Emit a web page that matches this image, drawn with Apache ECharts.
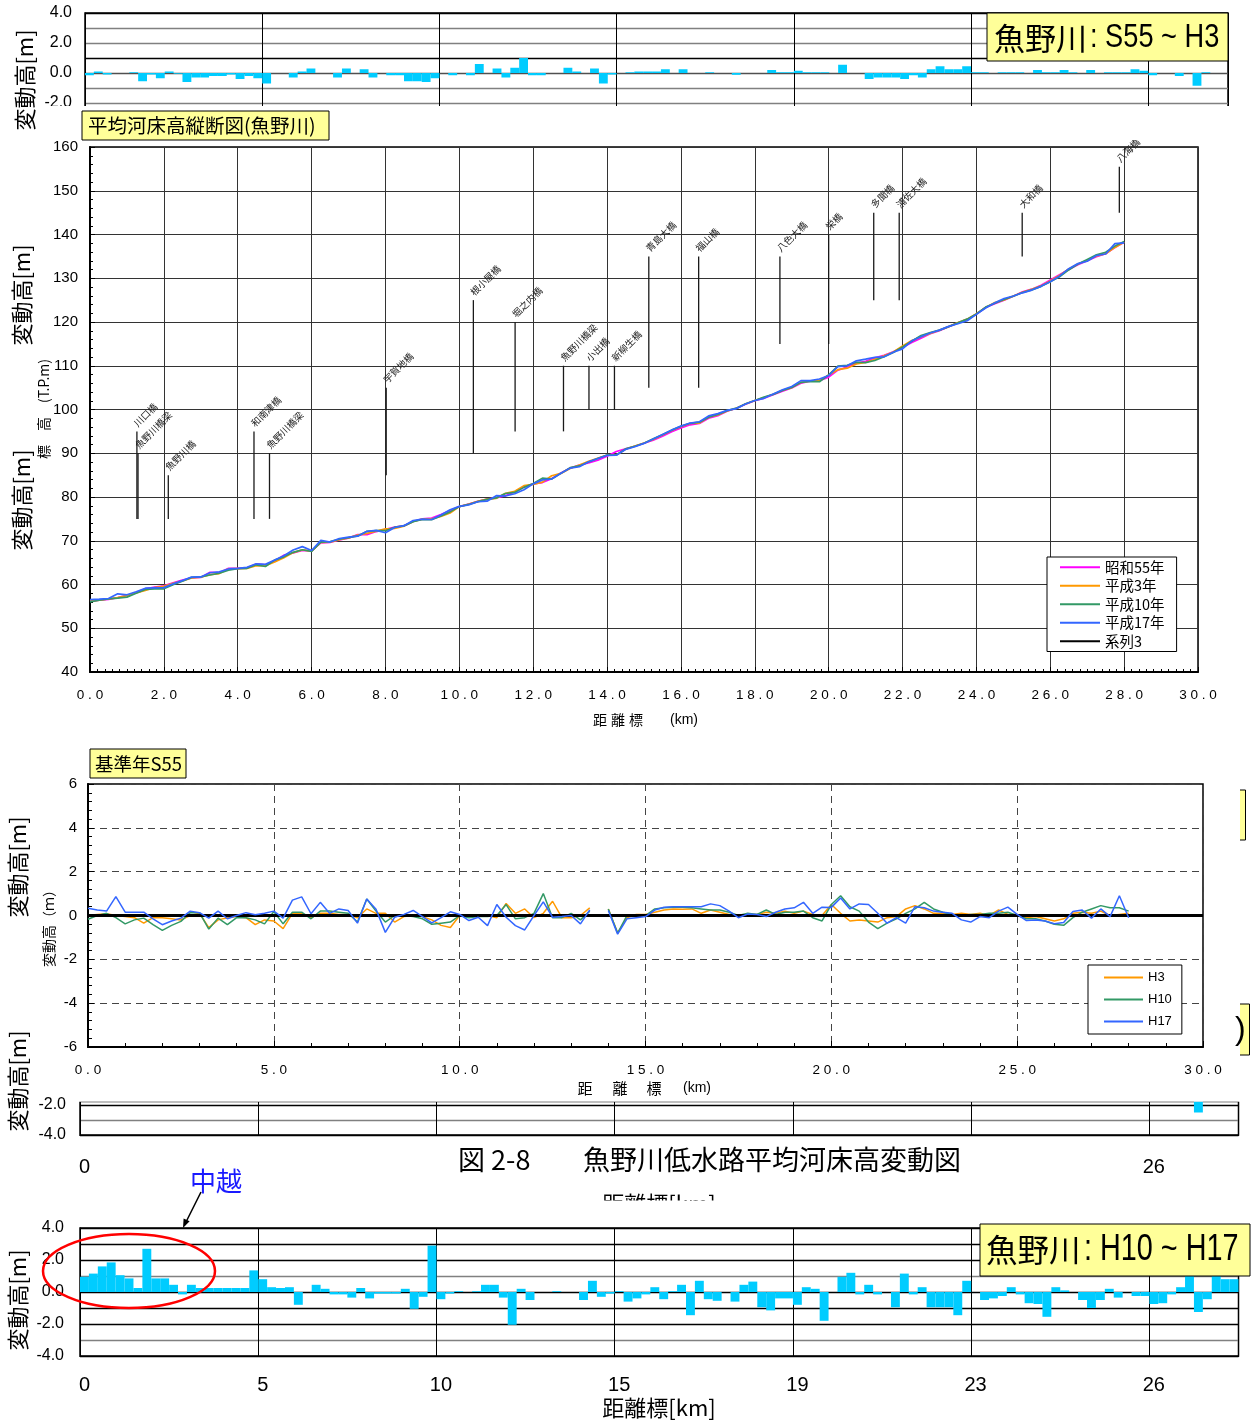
<!DOCTYPE html>
<html lang="ja"><head><meta charset="utf-8"><title>魚野川低水路平均河床高変動図</title>
<script src="https://cdn.jsdelivr.net/npm/echarts@6.0.0/dist/echarts.min.js"></script>
<style>html,body{margin:0;padding:0;background:#fff;}#chart{width:1258px;height:1423px;}</style>
</head><body><div id="chart"></div><script>
// ================= DATA =================
const KM_STEP = 0.25; // survey section spacing used for the profile / difference plots [km]

// 昭和55年 average low-water bed elevation [T.P.m] every 0.25 km, 0.0 – 28.0 km
const s55Bed = [
 56.2,56.4,56.6,57.0,57.5,58.2,59.0,59.4,59.7,60.4,
 61.0,61.5,61.6,62.8,62.7,63.7,63.7,63.8,64.7,64.5,
 65.4,66.7,67.2,67.8,67.7,69.5,69.6,70.2,70.6,71.4,
 71.4,72.1,72.6,73.1,73.4,74.4,75.0,75.2,76.0,76.9,
 77.8,78.4,79.0,79.5,79.8,80.3,81.2,82.3,83.0,83.3,
 84.2,85.5,86.6,87.3,87.8,88.4,89.3,90.4,91.0,91.6,
 92.3,93.0,93.9,94.9,95.8,96.5,96.8,98.0,98.6,99.6,
 100.3,101.2,102.0,102.6,103.4,104.2,104.9,106.0,106.5,106.6,
 107.4,109.0,109.7,110.6,111.0,111.8,112.4,113.2,114.2,115.3,
 116.3,117.3,118.0,118.9,119.8,120.6,121.8,123.3,124.2,125.0,
 125.9,126.9,127.5,128.4,129.6,130.8,132.0,133.1,134.0,134.9,
 135.6,137.0,138.2
];
// change from 昭和55年 (基準年S55) [m], same stations
const dH3 = [
 0.0,0.05,0.08,0.0,-0.05,-0.1,-0.35,-0.1,-0.1,-0.15,
 -0.2,0.0,0.1,-0.55,-0.2,-0.1,-0.05,-0.1,-0.42,-0.2,
 -0.25,-0.6,0.1,0.1,-0.1,0.1,0.1,0.05,0.05,-0.1,
 0.3,0.1,0.1,-0.3,-0.05,0.0,-0.05,-0.2,-0.45,-0.55,
 0.0,-0.05,0.0,0.0,-0.1,0.55,0.1,0.3,-0.1,0.1,
 0.65,-0.1,-0.1,0.0,0.35,null,0.3,-0.8,-0.1,0.05,
 0.05,0.15,0.25,0.3,0.28,0.3,0.1,0.25,0.15,0.05,
 0.0,0.05,0.05,0.15,0.1,0.2,0.1,0.2,0.05,0.0,
 0.5,0.1,-0.25,-0.2,-0.25,-0.3,-0.1,-0.05,0.3,0.45,
 0.3,0.1,0.1,0.05,0.1,0.05,0.1,0.0,0.25,0.05,
 0.05,-0.1,-0.05,-0.15,-0.25,-0.15,0.1,0.15,0.1,0.2,
 0.0,0.05,0.1
];
const dH10 = [
 -0.17,0.0,0.1,-0.1,-0.38,-0.2,-0.12,-0.42,-0.68,-0.45,
 -0.27,0.13,0.13,-0.62,-0.12,-0.42,-0.1,-0.1,-0.2,-0.38,
 0.18,-0.38,0.15,0.15,-0.15,0.2,0.2,0.15,0.1,-0.3,
 0.75,0.2,-0.3,0.0,0.0,-0.05,-0.15,-0.4,-0.35,-0.3,
 0.0,-0.1,-0.05,-0.05,0.0,0.5,-0.15,-0.1,0.1,1.0,
 -0.1,-0.1,0.1,-0.2,0.2,null,0.3,-0.8,0.0,0.0,
 0.0,0.3,0.35,0.38,0.38,0.35,0.3,0.25,0.25,0.15,
 0.0,0.1,0.05,0.25,0.05,0.15,0.15,0.2,-0.1,-0.25,
 0.5,0.9,0.4,0.2,-0.3,-0.6,-0.35,-0.15,0.1,0.3,
 0.6,0.3,0.15,0.05,0.0,0.05,0.05,0.1,0.1,0.15,
 0.0,-0.15,-0.15,-0.25,-0.4,-0.45,-0.1,0.15,0.3,0.45,
 0.35,0.35,0.2
];
const dH17 = [
 0.33,0.25,0.2,0.86,0.15,0.15,0.15,-0.15,-0.42,-0.25,
 -0.12,0.2,0.13,-0.12,0.2,-0.15,0.0,0.13,0.03,0.1,
 0.2,-0.12,0.7,0.85,0.08,0.6,0.1,0.3,0.23,-0.35,
 0.75,0.28,-0.77,-0.08,0.05,0.23,-0.05,-0.34,-0.1,0.17,
 0.05,-0.23,-0.08,-0.46,0.5,-0.08,-0.46,-0.66,0.0,0.62,
 -0.08,-0.05,0.0,-0.38,0.26,null,0.23,-0.85,-0.15,-0.1,
 -0.05,0.25,0.38,0.4,0.4,0.4,0.4,0.53,0.45,0.2,
 -0.1,0.07,0.05,-0.05,0.15,0.3,0.35,0.6,0.1,0.38,
 0.37,0.8,0.3,0.53,0.5,0.1,-0.35,-0.1,-0.35,0.4,
 0.35,0.2,0.15,0.1,-0.2,-0.3,-0.05,-0.1,0.2,0.38,
 0.05,-0.23,-0.2,-0.25,-0.38,-0.32,0.18,0.25,-0.12,0.3,
 -0.05,0.9,-0.1
];

// bridges (系列3)
const bridgeNames  = ['川口橋','魚野川橋梁','魚野川橋','和南津橋','魚野川橋梁','宇賀地橋','根小屋橋','堀之内橋','魚野川橋梁','小出橋','新柳生橋','青島大橋','福山橋','八色大橋','栄橋','多聞橋','浦佐大橋','大和橋','八海橋'];
const bridgeKm     = [1.27,1.30,2.12,4.44,4.86,8.02,10.38,11.51,12.82,13.51,14.20,15.13,16.48,18.68,20.00,21.22,21.91,25.24,27.87];
const bridgeTop    = [95,90,85,95,90,105,125,120,110,110,110,135,135,135,140,145,145,145,155.5];
const bridgeBottom = [75,75,75,75,75,85,90,95,95,100,100,105,105,115,115,125,125,135,145];

// strip bar charts (one bar per survey section) [m]
const s55toH3Change = [
 -0.15,0.1,-0.1,0,0,0.05,-0.55,-0.1,-0.35,0.1,-0.05,-0.6,-0.3,-0.3,-0.2,-0.2,-0.1,-0.4,-0.2,-0.35,
 -0.7,0,0,-0.3,0.1,0.3,0,0,-0.3,0.3,0,0.25,-0.3,0,-0.15,-0.15,-0.55,-0.55,-0.6,-0.35,
 0,-0.15,0,-0.15,0.6,0,0.3,-0.3,0.35,1.0,-0.15,-0.15,0,0,0.35,0.1,0,0.3,-0.7,-0.1,
 0,0.05,0.1,0.1,0.1,0.25,0,0.25,0,0,0.05,0,0,-0.12,0,0,0,0.2,0.05,0.05,
 0.15,0.05,0.05,0.05,0,0.55,0,0,-0.4,-0.3,-0.3,-0.3,-0.4,-0.15,-0.3,0.25,0.45,0.25,0.25,0.45,
 0.05,0.05,0,0.05,0.05,0.05,0,0.2,0.05,0.05,0.2,0.05,0,0.2,0,0.05,0.05,0.05,0.25,0.15,
 -0.15,0,0,-0.2,0,-0.85,0.05,0,0
];
const h10toH17Change = [
 0.95,1.15,1.6,1.85,1.05,0.85,0.25,2.7,0.85,0.85,0.45,-0.15,0.45,0.25,0.25,0.25,0.25,0.25,0.25,1.35,
 0.8,0.3,0.25,0.3,-0.8,0,0.45,0.2,-0.15,-0.15,-0.35,0.25,-0.4,-0.1,-0.1,-0.1,0.2,-1.05,-0.3,2.9,
 -0.45,-0.1,0.05,0,0.05,0.45,0.45,-0.35,-2.05,0.2,-0.5,0,0,0.05,0,0,-0.5,0.7,-0.3,-0.1,
 0.05,-0.6,-0.4,-0.15,0.3,-0.45,0.05,0.45,-1.45,0.7,-0.45,-0.55,0,-0.6,0.45,0.65,-0.95,-1.15,-0.4,-0.4,
 -0.8,0.3,0.2,-1.8,0,0.95,1.2,-0.15,0.45,-0.15,0,-0.95,1.15,-0.15,0.3,-0.95,-0.95,-0.95,-1.45,0.7,
 0,-0.5,-0.4,-0.25,0.3,-0.15,-0.7,-0.75,-1.55,0.3,0.1,0,-0.5,-1.0,-0.5,0.2,-0.35,0,-0.25,-0.25,
 -0.75,-0.7,-0.15,0.3,1.05,-1.25,-0.45,1.05,0.8,0.8
];
// partially hidden strip: only one bar is visible
const hiddenStripCount = 130;
const hiddenStripVisibleIndex = [125];
const hiddenStripVisibleValue = [-2.5];

const stripTickLabels = ['0','5','10','15','19','23','26'];
const hiddenStripTickLabels = {0:'0', 120:'26'};
const profileNames = ['昭和55年','平成3年','平成10年','平成17年'];
const diffNames = ['H3','H10','H17'];

// ================= BUILD =================
const JP = "'Noto Sans CJK JP', 'Noto Sans', sans-serif";
const NUM = "'Liberation Sans', Arial, sans-serif";
const stationsKm = s55Bed.map((_, i) => i * KM_STEP);
function addDiff(base, d) { return base.map((v, i) => d[i] == null ? null : Math.round((v + d[i]) * 100) / 100); }
const profiles = [s55Bed, addDiff(s55Bed, dH3), addDiff(s55Bed, dH10), addDiff(s55Bed, dH17)];
const profileColors = ['#FF00FF', '#FF9900', '#339966', '#3366FF'];
const diffs = [dH3, dH10, dH17];
const diffColors = ['#FF9900', '#339966', '#3366FF'];
const pairs = (arr) => arr.map((v, i) => [stationsKm[i], v]);
const catIdx = (n) => Array.from({length: n}, (_, i) => String(i));
const hiddenStripData = Array.from({length: hiddenStripCount}, () => null);
hiddenStripVisibleIndex.forEach((k, j) => { hiddenStripData[k] = hiddenStripVisibleValue[j]; });
const spaced = (s) => s.split('').join(' ');

const chart = echarts.init(document.getElementById('chart'), null, {renderer: 'canvas'});

const grids = [
  {left: 85, top: 13, width: 1143, height: 120},
  {left: 90, top: 147, width: 1108, height: 525},
  {left: 88, top: 784, width: 1115, height: 263},
  {left: 80, top: 1101.25, width: 1158.5, height: 33.75},
  {left: 80, top: 1228, width: 1158.5, height: 128}
].map(g => Object.assign({show: true, borderColor: '#000', borderWidth: 1.5, containLabel: false}, g));

const stripSplitColorsTop = ['#808080','#808080','#808080','#808080','#505050','#000','#808080','#808080','#000'];
const stripSplitColorsBottom = ['#000','#808080','#000','#000','#000','#808080','#000','#000','#000'];

const xAxis = [
  {type: 'category', gridIndex: 0, data: catIdx(s55toH3Change.length), boundaryGap: true,
   axisLine: {onZero: false, lineStyle: {color: '#000'}}, axisTick: {show: false}, axisLabel: {show: false},
   splitLine: {show: true, interval: 19, lineStyle: {color: '#000', width: 1}}},
  {type: 'value', gridIndex: 1, min: 0, max: 30, interval: 2,
   axisLine: {onZero: false, lineStyle: {color: '#000', width: 2}},
   axisTick: {inside: true, length: 5, lineStyle: {color: '#000'}},
   minorTick: {show: true, splitNumber: 10, length: 3, lineStyle: {color: '#000'}},
   axisLabel: {formatter: v => spaced(v.toFixed(1)), fontSize: 13.5, fontFamily: NUM, color: '#000', margin: 16},
   splitLine: {show: true, lineStyle: {color: '#333', width: 1}}},
  {type: 'value', gridIndex: 2, min: 0, max: 30, interval: 5,
   axisLine: {onZero: false, lineStyle: {color: '#000', width: 2}},
   axisTick: {inside: true, length: 6, lineStyle: {color: '#000'}},
   minorTick: {show: true, splitNumber: 5, length: 4, lineStyle: {color: '#000'}},
   axisLabel: {formatter: v => spaced(v.toFixed(1)), fontSize: 13.5, fontFamily: NUM, color: '#000', margin: 16},
   splitLine: {show: true, lineStyle: {color: '#444', width: 1, type: [7, 5]}}},
  {type: 'category', gridIndex: 3, data: catIdx(hiddenStripCount), boundaryGap: true,
   axisLine: {onZero: false, lineStyle: {color: '#000'}}, axisTick: {show: false},
   axisLabel: {interval: 19, formatter: (v, i) => hiddenStripTickLabels[i] || '', fontSize: 20, fontFamily: NUM, color: '#000', margin: 22},
   splitLine: {show: true, interval: 19, lineStyle: {color: '#000', width: 1}}},
  {type: 'category', gridIndex: 4, data: catIdx(h10toH17Change.length), boundaryGap: true,
   axisLine: {onZero: false, lineStyle: {color: '#000'}}, axisTick: {show: false},
   axisLabel: {interval: 19, formatter: (v, i) => stripTickLabels[i / 20] || '', fontSize: 20, fontFamily: NUM, color: '#000', margin: 19},
   splitLine: {show: true, interval: 19, lineStyle: {color: '#000', width: 1}}}
];

const yAxis = [
  {type: 'value', gridIndex: 0, min: -4, max: 4, interval: 1,
   axisLine: {show: true, lineStyle: {color: '#000'}}, axisTick: {show: false},
   axisLabel: {formatter: v => (Math.abs(v % 2) < 1e-9 ? v.toFixed(1) : ''), fontSize: 16, fontFamily: NUM, color: '#000', margin: 13},
   splitLine: {show: true, lineStyle: {color: stripSplitColorsTop, width: 1.3}}},
  {type: 'value', gridIndex: 1, min: 40, max: 160, interval: 10,
   axisLine: {show: true, lineStyle: {color: '#000', width: 2}},
   axisTick: {inside: true, length: 5, lineStyle: {color: '#000'}},
   minorTick: {show: true, splitNumber: 5, length: 3, lineStyle: {color: '#000'}},
   axisLabel: {fontSize: 15, fontFamily: NUM, color: '#000', margin: 12},
   splitLine: {show: true, lineStyle: {color: '#333', width: 1}}},
  {type: 'value', gridIndex: 2, min: -6, max: 6, interval: 2,
   axisLine: {show: true, lineStyle: {color: '#000', width: 2}},
   axisTick: {inside: true, length: 6, lineStyle: {color: '#000'}},
   minorTick: {show: true, splitNumber: 5, length: 4, lineStyle: {color: '#000'}},
   axisLabel: {fontSize: 15, fontFamily: NUM, color: '#000', margin: 11},
   splitLine: {show: true, lineStyle: {color: '#444', width: 1, type: [7, 5]}}},
  {type: 'value', gridIndex: 3, min: -4, max: -1.75, interval: 1,
   axisLine: {show: true, lineStyle: {color: '#000'}}, axisTick: {show: false},
   axisLabel: {showMaxLabel: false, formatter: v => (v === -2 || v === -4 ? v.toFixed(1) : ''), fontSize: 16, fontFamily: NUM, color: '#000', margin: 14},
   splitLine: {show: true, lineStyle: {color: ['#000', '#808080', '#000', '#000'], width: 1.3}}},
  {type: 'value', gridIndex: 4, min: -4, max: 4, interval: 1,
   axisLine: {show: true, lineStyle: {color: '#000'}}, axisTick: {show: false},
   axisLabel: {formatter: v => (Math.abs(v % 2) < 1e-9 ? v.toFixed(1) : ''), fontSize: 16, fontFamily: NUM, color: '#000', margin: 16},
   splitLine: {show: true, lineStyle: {color: stripSplitColorsBottom, width: 1.3}}}
];

const series = [];
series.push({type: 'bar', name: 'S55～H3', xAxisIndex: 0, yAxisIndex: 0, data: s55toH3Change, barCategoryGap: '0%', itemStyle: {color: '#00CCFF'}, silent: true});
profiles.forEach((p, k) => series.push({
  type: 'line', name: profileNames[k], xAxisIndex: 1, yAxisIndex: 1, data: pairs(p), symbol: 'none', showSymbol: false,
  connectNulls: true, lineStyle: {color: profileColors[k], width: 1.7}, itemStyle: {color: profileColors[k]}, z: 3 + k
}));
series.push({
  type: 'custom', name: '系列3', xAxisIndex: 1, yAxisIndex: 1, itemStyle: {color: '#000'}, z: 8,
  data: bridgeKm.map((k, i) => [k, bridgeTop[i], bridgeBottom[i]]),
  encode: {x: 0, y: [1, 2]},
  renderItem: function (params, api) {
    const x = api.value(0), t = api.value(1), b = api.value(2);
    const p1 = api.coord([x, t]), p2 = api.coord([x, b]);
    return {type: 'group', children: [
      {type: 'line', shape: {x1: p1[0], y1: p1[1], x2: p2[0], y2: p2[1]}, style: {stroke: '#1a1a1a', lineWidth: 1.3}},
      {type: 'text', x: p1[0] + 2, y: p1[1] - 3, rotation: Math.PI / 4,
       style: {text: bridgeNames[params.dataIndex], fill: '#222', font: "9.5px 'Noto Sans CJK JP', sans-serif",
               align: 'left', verticalAlign: 'bottom', textAlign: 'left', textVerticalAlign: 'bottom'}}
    ]};
  }
});
diffs.forEach((d, k) => {
  const s = {type: 'line', name: diffNames[k], xAxisIndex: 2, yAxisIndex: 2, data: pairs(d), symbol: 'none', showSymbol: false,
    connectNulls: false, lineStyle: {color: diffColors[k], width: 1.5}, itemStyle: {color: diffColors[k]}, z: 3 + k};
  if (k === diffs.length - 1) {
    s.markLine = {silent: true, symbol: ['none', 'none'], label: {show: false}, animation: false,
      lineStyle: {color: '#000', width: 3, type: 'solid'}, data: [{yAxis: 0}]};
  }
  series.push(s);
});
series.push({type: 'bar', name: 'H3～H10', xAxisIndex: 3, yAxisIndex: 3, data: hiddenStripData, barCategoryGap: '0%', clip: true, itemStyle: {color: '#00CCFF'}, silent: true});
series.push({type: 'bar', name: 'H10～H17', xAxisIndex: 4, yAxisIndex: 4, data: h10toH17Change, barCategoryGap: '0%', itemStyle: {color: '#00CCFF'}, silent: true});

const legend = [
  {data: profileNames.concat(['系列3']).map(n => ({name: n, icon: 'rect'})), orient: 'vertical', left: 1047, top: 557,
   itemWidth: 40, itemHeight: 2, itemGap: 4, padding: [3, 12, 3, 13], backgroundColor: '#fff', borderColor: '#000', borderWidth: 1,
   selectedMode: false, textStyle: {fontSize: 14.5, fontFamily: JP, color: '#000', lineHeight: 14.5}},
  {data: diffNames.map(n => ({name: n, icon: 'rect'})), orient: 'vertical', left: 1088, top: 965,
   itemWidth: 39, itemHeight: 2, itemGap: 9, padding: [6, 10, 6, 16], backgroundColor: '#fff', borderColor: '#000', borderWidth: 1,
   selectedMode: false, textStyle: {fontSize: 13, fontFamily: NUM, color: '#000', lineHeight: 13}}
];

// ---------- annotations ----------
const G = [];
function T(x, y, text, o) {
  o = o || {};
  const el = {type: 'text', x: x, y: y, z: o.z || 120, silent: true,
    style: {text: text, fill: o.fill || '#000', font: (o.size || 14) + 'px ' + (o.family || JP),
      align: o.align || 'left', textAlign: o.align || 'left', verticalAlign: o.va || 'middle', textVerticalAlign: o.va || 'middle'}};
  if (o.rot) el.rotation = o.rot;
  if (o.scaleX) el.scaleX = o.scaleX;
  G.push(el);
}
function R(x, y, w, h, fill, stroke, z) {
  G.push({type: 'rect', z: z || 115, silent: true, shape: {x: x, y: y, width: w, height: h},
    style: {fill: fill, stroke: stroke || null, lineWidth: stroke ? 1 : 0}});
}
// white covers (parts of the strips hidden behind the other figures)
R(45, 106, 1213, 34, '#fff', null, 100);
R(70, 1099.5, 1180, 2.3, '#fff', null, 100);
R(560, 1200.5, 200, 25, '#fff', null, 101);

// label boxes
R(82, 111, 247, 29, '#FFFF99', '#000');
T(88, 126, '平均河床高縦断図(魚野川)', {size: 19.5});
R(987, 13, 241, 48, '#FFFF99', '#000');
T(994, 38, '魚野川', {size: 31});
T(1090, 38, ': S55 ~ H3', {size: 34, family: NUM, scaleX: 0.8});
R(90, 749, 96, 29, '#FFFF99', '#000');
T(95, 764, '基準年S55', {size: 18.5});
R(980, 1224, 270, 52, '#FFFF99', '#000');
T(986, 1250, '魚野川', {size: 31.5});
T(1084, 1250, ': H10 ~ H17', {size: 36, family: NUM, scaleX: 0.8});
// box fragments at the right edge
G.push({type: 'rect', z: 115, silent: true, shape: {x: 1240, y: 790, width: 5.5, height: 50}, style: {fill: '#FFFF99'}});
G.push({type: 'polyline', z: 116, silent: true, shape: {points: [[1240, 790], [1245.5, 790], [1245.5, 840], [1240, 840]]}, style: {stroke: '#000', lineWidth: 1, fill: null}});
G.push({type: 'rect', z: 115, silent: true, shape: {x: 1240, y: 1004, width: 9.5, height: 51}, style: {fill: '#FFFF99'}});
G.push({type: 'polyline', z: 116, silent: true, shape: {points: [[1240, 1004], [1249.5, 1004], [1249.5, 1055], [1240, 1055]]}, style: {stroke: '#000', lineWidth: 1, fill: null}});
T(1235, 1030, ')', {size: 32, family: NUM});

// axis titles
const R90 = Math.PI / 2;
T(25, 80, '変動高[m]', {size: 22, align: 'center', rot: R90});
T(22, 295, '変動高[m]', {size: 22, align: 'center', rot: R90});
T(22, 500, '変動高[m]', {size: 22, align: 'center', rot: R90});
T(44, 409, '標　高　(T.P.m)', {size: 14, align: 'center', rot: R90});
T(18, 867, '変動高[m]', {size: 22, align: 'center', rot: R90});
T(49, 925, '変動高（ｍ）', {size: 14, align: 'center', rot: R90});
T(18, 1081, '変動高[m]', {size: 22, align: 'center', rot: R90});
T(18, 1300, '変動高[m]', {size: 22, align: 'center', rot: R90});
// x titles
T(600, 720, '距', {size: 14, align: 'center'}); T(618, 720, '離', {size: 14, align: 'center'}); T(636, 720, '標', {size: 14, align: 'center'});
T(684, 720, '(km)', {size: 14, family: NUM, align: 'center'});
T(585, 1088, '距', {size: 15, align: 'center'}); T(620, 1088, '離', {size: 15, align: 'center'}); T(654, 1088, '標', {size: 15, align: 'center'});
T(697, 1088, '(km)', {size: 14, family: NUM, align: 'center'});
T(659, 1204, '距離標[km]', {size: 22, align: 'center', z: 99});
T(659, 1408, '距離標[km]', {size: 22, align: 'center'});
// caption
T(458, 1160, '図 2-8', {size: 27});
T(583, 1160, '魚野川低水路平均河床高変動図', {size: 27});
// 中越 annotation
T(216, 1181, '中越', {size: 26, align: 'center', fill: '#1a1aff'});
G.push({type: 'line', z: 121, silent: true, shape: {x1: 201, y1: 1192, x2: 185.5, y2: 1223}, style: {stroke: '#000', lineWidth: 1.5}});
G.push({type: 'polygon', z: 121, silent: true, shape: {points: [[183, 1228], [189.6, 1221.2], [183.6, 1218.6]]}, style: {fill: '#000'}});
G.push({type: 'ellipse', z: 121, silent: true, shape: {cx: 129, cy: 1271, rx: 86, ry: 37}, style: {fill: null, stroke: '#FF0000', lineWidth: 2.5}});

chart.setOption({
  animation: false,
  backgroundColor: '#fff',
  textStyle: {fontFamily: NUM},
  grid: grids, xAxis: xAxis, yAxis: yAxis, series: series, legend: legend,
  graphic: {elements: G}
});
</script></body></html>
